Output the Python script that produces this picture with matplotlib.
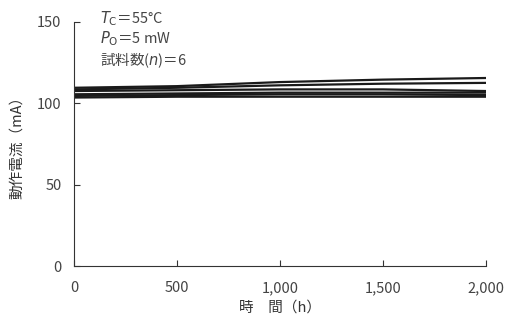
import matplotlib.pyplot as plt
import numpy as np

plt.rcParams['font.family'] = ['Noto Sans CJK JP', 'DejaVu Sans']

# time points (h) and operating current (mA) for six samples
hours = [0, 500, 1000, 1500, 2000]
s1 = [109.5, 110.5, 113.0, 114.5, 115.5]
s2 = [108.5, 109.5, 111.0, 112.0, 112.5]
s3 = [107.5, 108.0, 108.5, 108.5, 107.5]
s4 = [105.5, 106.0, 106.5, 106.5, 106.5]
s5 = [104.5, 105.0, 105.5, 105.5, 105.0]
s6 = [103.5, 104.0, 104.0, 104.0, 104.0]
samples = [s1, s2, s3, s4, s5, s6]

xticks = [0, 500, 1000, 1500, 2000]
xtick_labels = ['0', '500', '1,000', '1,500', '2,000']
yticks = [0, 50, 100, 150]

fig = plt.figure(figsize=(5.07, 3.26), dpi=100)
ax = fig.add_axes([0.146, 0.184, 0.812, 0.749])

for s in samples:
    ax.plot(hours, s, color='#1a1a1a', lw=1.6)

ax.set_xlim(0, 2000)
ax.set_ylim(0, 150)
ax.set_xticks(xticks)
ax.set_xticklabels(xtick_labels)
ax.set_yticks(yticks)
ax.tick_params(direction='in', length=4, color='#333333', labelcolor='#444444',
               labelsize=10.5)
ax.tick_params(axis='x', pad=11)
ax.tick_params(axis='y', pad=9)

for side in ['top', 'right']:
    ax.spines[side].set_visible(False)
for side in ['left', 'bottom']:
    ax.spines[side].set_color('#333333')

ax.set_xlabel('時　間（h）', fontsize=10.5, color='#333333', labelpad=4)
ax.set_ylabel('動作電流（mA）', fontsize=10.5, color='#333333', labelpad=9)

# conditions
txt = '$T_{\\mathrm{C}}$＝55°C\n$P_{\\mathrm{O}}$＝5 mW\n試料数($n$)＝6'
ax.text(0.062, 1.05, txt, transform=ax.transAxes, va='top', ha='left',
        fontsize=10.5, color='#444444', linespacing=1.1, clip_on=False)

fig.savefig('out.png', dpi=100)
